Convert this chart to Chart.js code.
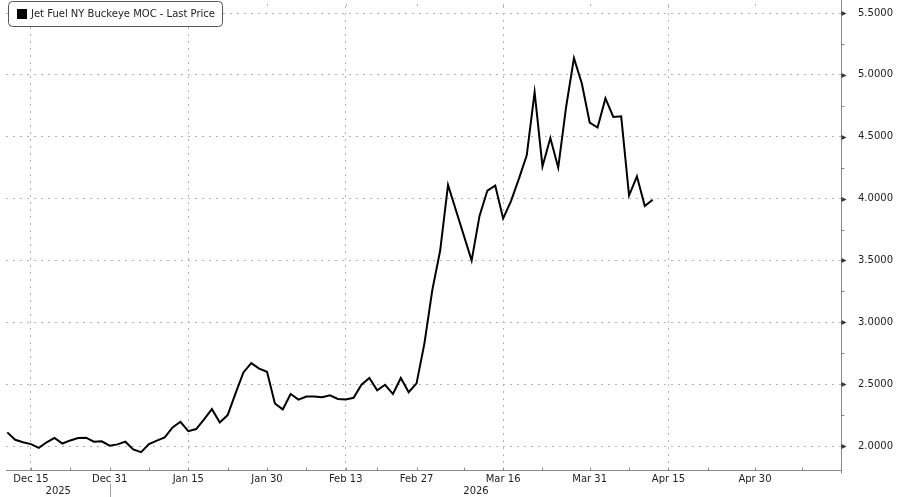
<!DOCTYPE html>
<html>
<head>
<meta charset="utf-8">
<script src="https://cdn.jsdelivr.net/npm/chart.js@4.4.1/dist/chart.umd.min.js"></script>
<style>
  html, body { margin: 0; padding: 0; background: #fff; }
  #wrap { width: 900px; height: 497px; }
</style>
</head>
<body>
<div id="wrap"><canvas id="jetFuelChart" width="900" height="497"></canvas></div>
<script>
// Jet fuel price, one point per business day starting Dec 10 2025

const seriesName = "Jet Fuel NY Buckeye MOC - Last Price";

const prices = [
  2.11, 2.05, 2.03, 2.015, 1.985, 2.03, 2.065, 2.02, 2.045, 2.065,
  2.067, 2.035, 2.038, 2.003, 2.013, 2.035, 1.973, 1.95, 2.016, 2.043,
  2.07, 2.15, 2.196, 2.12, 2.137, 2.215, 2.298, 2.19, 2.25, 2.425,
  2.595, 2.67, 2.626, 2.60, 2.344, 2.296, 2.42, 2.375, 2.40, 2.40,
  2.395, 2.41, 2.38, 2.376, 2.39, 2.495, 2.55, 2.45, 2.495, 2.42,
  2.55, 2.435, 2.506, 2.83, 3.26, 3.58, 4.11, null, null, 3.50,
  3.86, 4.065, 4.105, 3.84, 3.98, 4.16, 4.35, 4.86, 4.26, 4.49,
  4.25, 4.74, 5.135, 4.93, 4.615, 4.575, 4.81, 4.66, 4.665, 4.025,
  4.18, 3.94, 3.99
];

// x ticks sit on business-day indices, empty label = minor tick
const xTickIndex = [3, 8, 13, 18, 23, 28, 33, 38, 43, 47, 52, 58, 63, 68, 74, 79, 84, 89, 95, 101];
const xTickLabels = ["Dec 15", "", "Dec 31", "", "Jan 15", "", "Jan 30", "", "Feb 13", "",
                     "Feb 27", "", "Mar 16", "", "Mar 31", "", "Apr 15", "", "Apr 30", ""];

const yTickValues = [2.0, 2.25, 2.5, 2.75, 3.0, 3.25, 3.5, 3.75, 4.0, 4.25, 4.5, 4.75, 5.0, 5.25, 5.5];

const yearLabels = ["2025", "2026"];
const yearBreakIndex = 13;

const FONT = "DejaVu Sans";
const TEXT_COLOR = "#222";
const GRID_COLOR = "#b3b3b3";
const AXIS_COLOR = "#8a8a8a";
const Y_MIN = 1.806;
const Y_MAX = 5.557;

function isMajorY(v) {
  return v <= 5.5 + 1e-6 && Math.abs(v * 2 - Math.round(v * 2)) < 1e-6;
}

// axis lines, inner tick marks, year row and the boxed legend
const bbgDecor = {
  id: "bbgDecor",
  afterDraw(chart) {
    const ctx = chart.ctx;
    const area = chart.chartArea;
    const xs = chart.scales.x;
    const ys = chart.scales.y;
    const axisX = Math.round(area.right) + 0.5;
    const axisY = Math.round(area.bottom) + 0.5;

    ctx.save();
    // carry the dotted verticals up to the top edge
    ctx.strokeStyle = GRID_COLOR;
    ctx.lineWidth = 1;
    ctx.setLineDash([2, 5]);
    ctx.beginPath();
    xTickIndex.forEach((v, i) => {
      if (!xTickLabels[i]) return;
      const px = Math.round(xs.getPixelForValue(v)) + 0.5;
      ctx.moveTo(px, area.top);
      ctx.lineTo(px, 0);
    });
    ctx.stroke();
    ctx.setLineDash([]);

    ctx.strokeStyle = AXIS_COLOR;
    ctx.beginPath();
    ctx.moveTo(area.left, axisY);
    ctx.lineTo(axisX, axisY);
    ctx.moveTo(axisX, 0);
    ctx.lineTo(axisX, axisY + 3);
    ctx.stroke();

    // x ticks point up into the plot
    ctx.beginPath();
    xTickIndex.forEach(v => {
      const px = Math.round(xs.getPixelForValue(v)) + 0.5;
      ctx.moveTo(px, axisY);
      ctx.lineTo(px, axisY - 3);
    });
    ctx.stroke();

    // y ticks: arrows at majors, short dashes at minors
    yTickValues.forEach(v => {
      const py = Math.round(ys.getPixelForValue(v)) + 0.5;
      if (isMajorY(v)) {
        ctx.fillStyle = "#333";
        ctx.beginPath();
        ctx.moveTo(axisX, py - 2.5);
        ctx.lineTo(axisX + 5, py);
        ctx.lineTo(axisX, py + 2.5);
        ctx.closePath();
        ctx.fill();
      } else {
        ctx.beginPath();
        ctx.moveTo(axisX, py);
        ctx.lineTo(axisX + 3, py);
        ctx.stroke();
      }
    });

    // year row
    const breakX = Math.round(xs.getPixelForValue(yearBreakIndex)) + 0.5;
    ctx.strokeStyle = "#a0a0a0";
    ctx.beginPath();
    ctx.moveTo(breakX, axisY + 13);
    ctx.lineTo(breakX, chart.height);
    ctx.stroke();
    ctx.fillStyle = TEXT_COLOR;
    ctx.font = "10px '" + FONT + "'";
    ctx.textAlign = "center";
    ctx.textBaseline = "middle";
    ctx.fillText(yearLabels[0], (area.left + breakX) / 2, 491);
    ctx.fillText(yearLabels[1], (breakX + axisX) / 2, 491);

    // legend box
    ctx.fillStyle = "#fff";
    ctx.strokeStyle = "#555";
    ctx.beginPath();
    ctx.roundRect(8.5, 1.5, 214, 25, 4);
    ctx.fill();
    ctx.stroke();
    ctx.fillStyle = "#000";
    ctx.fillRect(17, 9, 10, 10);
    ctx.fillStyle = TEXT_COLOR;
    ctx.textAlign = "left";
    ctx.fillText(seriesName, 31, 14.5);
    ctx.restore();
  }
};

new Chart(document.getElementById("jetFuelChart"), {
  type: "line",
  data: {
    datasets: [{
      label: seriesName,
      data: prices.map((y, i) => ({ x: i, y: y })),
      borderColor: "#000",
      borderWidth: 2,
      pointRadius: 0,
      tension: 0,
      spanGaps: true
    }]
  },
  options: {
    responsive: false,
    animation: false,
    devicePixelRatio: 1,
    layout: { padding: { left: 6, top: 0, right: 0, bottom: 0 } },
    plugins: {
      legend: { display: false },
      tooltip: { enabled: false }
    },
    scales: {
      x: {
        type: "linear",
        min: -0.165,
        max: 105.93,
        afterBuildTicks: s => { s.ticks = xTickIndex.map(v => ({ value: v })); },
        afterFit: s => { s.height = 27; },
        ticks: {
          autoSkip: false,
          maxRotation: 0,
          padding: 3,
          color: TEXT_COLOR,
          font: { family: FONT, size: 10 },
          callback: (v, i) => (xTickLabels[i] ? xTickLabels[i] : null)
        },
        grid: {
          drawTicks: false,
          lineWidth: 1,
          color: c => (xTickLabels[c.index] ? GRID_COLOR : "rgba(0,0,0,0)")
        },
        border: { display: false, dash: [2, 5] }
      },
      y: {
        type: "linear",
        position: "right",
        min: Y_MIN,
        max: Y_MAX,
        // unlabeled tick at the top keeps the scale from padding the chart area
        afterBuildTicks: s => { s.ticks = yTickValues.concat([Y_MAX]).map(v => ({ value: v })); },
        afterFit: s => { s.width = 59; },
        ticks: {
          autoSkip: false,
          padding: 0,
          color: TEXT_COLOR,
          font: { family: FONT, size: 10 },
          callback: v => (isMajorY(v) ? v.toFixed(4) : null)
        },
        grid: {
          drawTicks: true,
          tickLength: 17,
          tickColor: "rgba(0,0,0,0)",
          lineWidth: 1,
          color: c => (c.tick && isMajorY(c.tick.value) ? GRID_COLOR : "rgba(0,0,0,0)")
        },
        border: { display: false, dash: [2, 5] }
      }
    }
  },
  plugins: [bbgDecor]
});
</script>
</body>
</html>
